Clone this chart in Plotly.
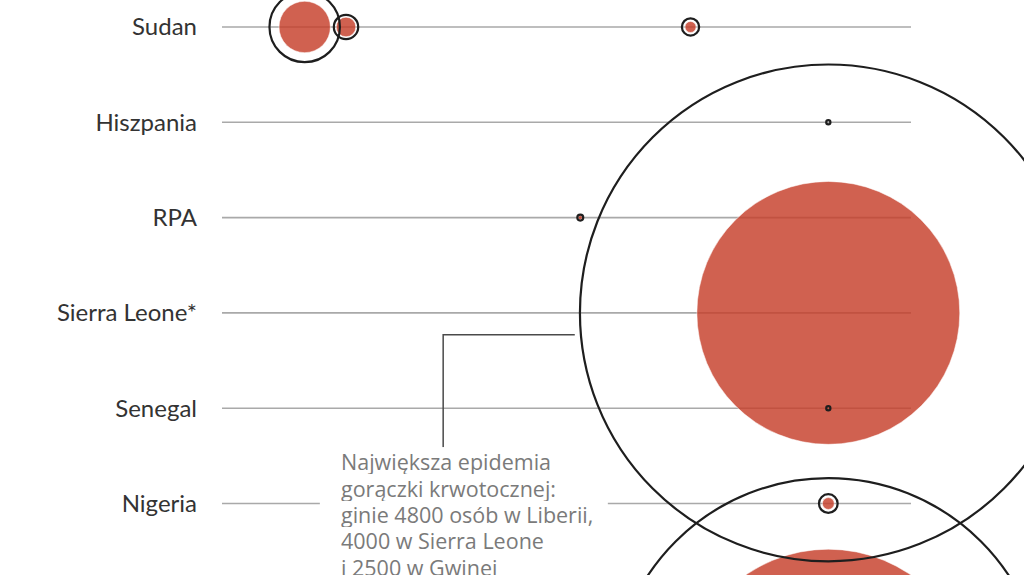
import math
import plotly.graph_objects as go

# ---- data ----
countries = ["Sudan", "Hiszpania", "RPA", "Sierra Leone*", "Senegal", "Nigeria", "Mali", "Liberia"]

ob_country = ["Sudan", "Sudan", "Sudan", "Hiszpania", "RPA", "Sierra Leone*", "Senegal", "Nigeria", "Mali", "Liberia"]
ob_year = [1976, 1979, 2004, 2014, 1996, 2014, 2014, 2014, 2014, 2014]
ob_cases = [284, 34, 17, 1, 2, 14124, 1, 20, 8, 10678]
ob_deaths = [151, 22, 7, 0, 1, 3956, 0, 8, 6, 4810]

year_start, year_end = 1970, 2020
note_lines = ["Największa epidemia", "gorączki krwotocznej:", "ginie 4800 osób w Liberii,",
              "4000 w Sierra Leone", "i 2500 w Gwinei"]

# ---- scales ----
DIAM_K = 4.18  # px diameter per sqrt(person)
ROW_PX = 95.3  # pixel height of one row
ypos = {c: i for i, c in enumerate(countries)}
oy = [ypos[c] for c in ob_country]
d_cases = [DIAM_K * math.sqrt(v) for v in ob_cases]
d_deaths = [DIAM_K * math.sqrt(v) for v in ob_deaths]

fig = go.Figure()

# grid lines per country row
gx, gy = [], []
for c in countries:
    gx += [year_start, year_end, None]
    gy += [ypos[c], ypos[c], None]
fig.add_trace(go.Scatter(x=gx, y=gy, mode="lines",
                         line=dict(color="#a9a9a9", width=1.6),
                         hoverinfo="skip", showlegend=False))

# deaths (filled)
fig.add_trace(go.Scatter(x=ob_year, y=oy, mode="markers", cliponaxis=True,
                         marker=dict(size=d_deaths, sizemode="diameter", opacity=1,
                                     color="rgba(198,62,42,0.82)",
                                     line=dict(color="rgba(255,255,255,0.5)", width=1)),
                         hoverinfo="skip", showlegend=False))
# cases (rings)
fig.add_trace(go.Scatter(x=ob_year, y=oy, mode="markers", cliponaxis=True,
                         marker=dict(size=d_cases, sizemode="diameter", opacity=1,
                                     color="rgba(0,0,0,0)",
                                     line=dict(color="#1e1e1e", width=2.2)),
                         hoverinfo="skip", showlegend=False))

# callout line
fig.add_trace(go.Scatter(x=[1986.05, 1986.05, 1995.6], y=[4.41, 3.23, 3.23], mode="lines",
                         line=dict(color="#4a4a4a", width=1.5),
                         hoverinfo="skip", showlegend=False))

# white backing behind the note
fig.add_shape(type="rect", xref="x", yref="y", x0=1977.1, x1=1998.0, y0=4.41, y1=5.8,
              fillcolor="white", line=dict(width=0), layer="above")

# note, one annotation per line for tighter leading
note_top = 4.38 + 3.0 / ROW_PX
for i, line in enumerate(note_lines):
    fig.add_annotation(x=1978.55, y=note_top + i * 26.3 / ROW_PX, xref="x", yref="y",
                       xanchor="left", yanchor="top", text=line, showarrow=False,
                       align="left", height=26, valign="middle", borderpad=0,
                       font=dict(family="Open Sans", size=21.5, color="#7a7a7a"))

fig.update_layout(
    width=1024, height=575,
    margin=dict(l=222, r=0, t=0, b=0),
    paper_bgcolor="white", plot_bgcolor="white",
    xaxis=dict(range=[1970, 2028.2], visible=False, fixedrange=True),
    yaxis=dict(range=[5.75, -0.283], tickvals=list(range(len(countries))), ticktext=countries,
               showgrid=False, zeroline=False, showline=False, ticks="",
               ticklabelstandoff=24,
               tickfont=dict(family="Lato", size=24, color="#333333"),
               fixedrange=True),
    showlegend=False,
)

fig.write_html("out.html")
